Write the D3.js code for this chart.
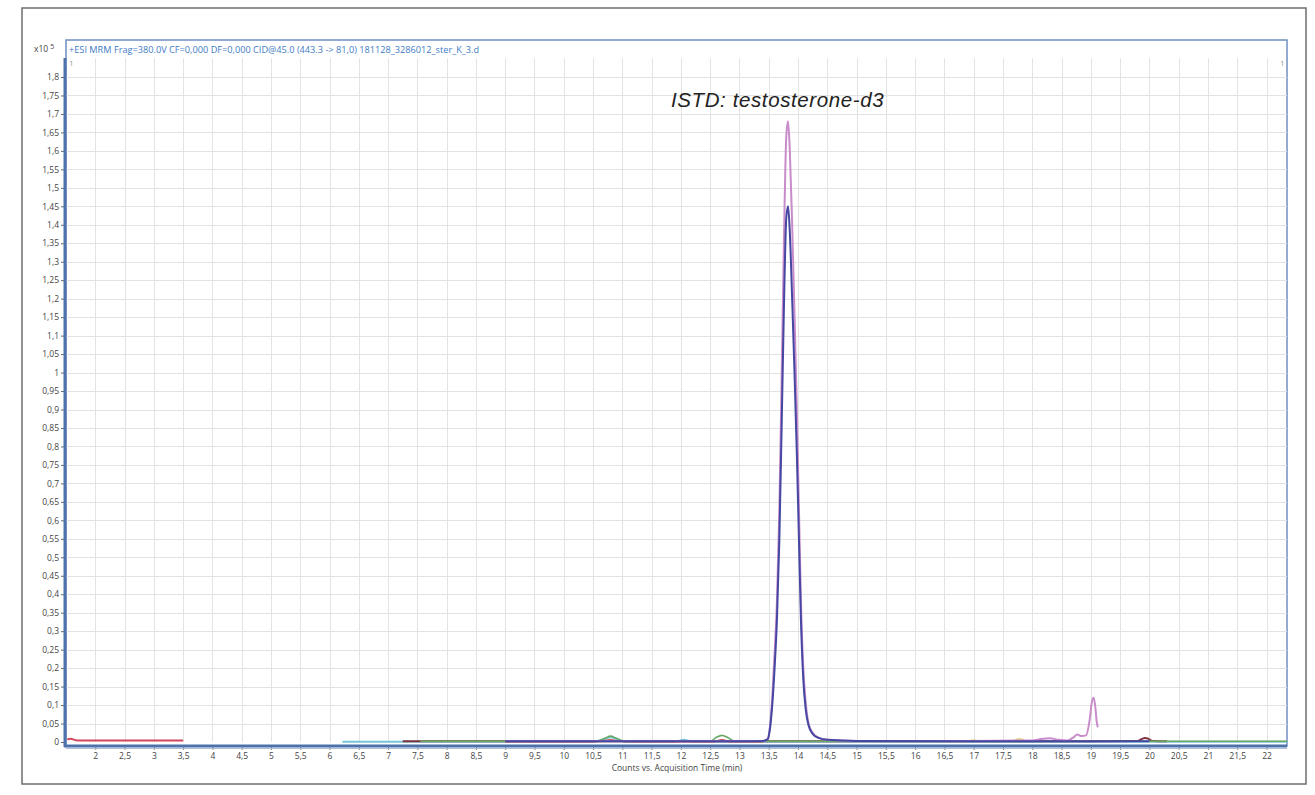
<!DOCTYPE html>
<html>
<head>
<meta charset="utf-8">
<script src="https://cdn.jsdelivr.net/npm/d3@7"></script>
<style>
  html, body { margin: 0; padding: 0; background: #fff; }
  svg { display: block; font-family: "Open Sans", "Liberation Sans", Arial, sans-serif; }
</style>
</head>
<body>
<svg id="chart" width="1315" height="795"></svg>
<script>
// Tick values for both axes (decimal comma labels)
const xTicks = d3.range(2, 22.01, 0.5);
const yTicks = d3.range(0, 1.8001, 0.05);

// Chromatogram traces: [time (min), counts x10^5]
const traceRed = [
  [1.52, 0.007], [1.58, 0.009], [1.66, 0.005], [1.8, 0.004], [2.5, 0.004], [3.0, 0.004], [3.5, 0.004]
];
const traceRed2 = [
  [9.0, 0.001], [10.5, 0.001], [10.7, 0.004], [10.8, 0.006], [10.9, 0.003], [11.2, 0.001],
  [12.55, 0.001], [12.7, 0.006], [12.85, 0.001], [13.4, 0.001]
];
const traceCyan = [
  [6.22, 0.001], [7.0, 0.001], [8.0, 0.001], [10.5, 0.001], [10.7, 0.008], [10.8, 0.013], [10.9, 0.008],
  [11.05, 0.001], [11.9, 0.001], [12.05, 0.006], [12.2, 0.001], [14.0, 0.001], [16.0, 0.001],
  [18.0, 0.001], [20.0, 0.001], [22.35, 0.001]
];
const traceMaroon = [
  [7.25, 0.002], [7.55, 0.002], [9.0, 0.002], [11.0, 0.002], [13.0, 0.002], [15.0, 0.002],
  [17.0, 0.002], [19.0, 0.002], [19.8, 0.003], [19.92, 0.011], [19.98, 0.009], [20.05, 0.003], [20.3, 0.002]
];
const traceGreen = [
  [7.55, 0.002], [8.5, 0.002], [9.05, 0.002], [10.55, 0.002], [10.7, 0.01], [10.8, 0.016], [10.9, 0.01],
  [11.05, 0.002], [12.5, 0.002], [12.6, 0.012], [12.7, 0.018], [12.8, 0.012], [12.92, 0.002],
  [15.0, 0.002], [17.6, 0.002], [20.2, 0.002], [22.35, 0.002]
];
const traceYellow = [
  [16.9, 0.002], [17.0, 0.005], [17.1, 0.002], [17.65, 0.002], [17.78, 0.009], [17.9, 0.002]
];
const tracePink = [
  [9.0, 0.002], [11.0, 0.002], [13.0, 0.002], [13.4, 0.003], [13.48, 0.008], [13.52, 0.04],
  [13.56, 0.12], [13.6, 0.24], [13.64, 0.38], [13.68, 0.62], [13.72, 0.98], [13.76, 1.36],
  [13.8, 1.64], [13.83, 1.68], [13.86, 1.6], [13.9, 1.4], [13.94, 1.16], [13.98, 0.9],
  [14.02, 0.6], [14.05, 0.38], [14.09, 0.2], [14.13, 0.11], [14.18, 0.05], [14.25, 0.025],
  [14.35, 0.012], [14.5, 0.006], [15.0, 0.003], [16.0, 0.003], [17.0, 0.003], [18.0, 0.004],
  [18.15, 0.008], [18.3, 0.01], [18.45, 0.006], [18.6, 0.004], [18.7, 0.012], [18.77, 0.02],
  [18.84, 0.016], [18.92, 0.018], [18.98, 0.06], [19.02, 0.11], [19.05, 0.12], [19.08, 0.09],
  [19.1, 0.055], [19.12, 0.04]
];
const traceNavy = [
  [9.0, 0.002], [11.0, 0.002], [13.0, 0.002], [13.4, 0.003], [13.48, 0.007], [13.52, 0.035],
  [13.56, 0.1], [13.6, 0.2], [13.64, 0.33], [13.68, 0.54], [13.72, 0.85], [13.76, 1.18],
  [13.8, 1.42], [13.83, 1.45], [13.86, 1.38], [13.9, 1.2], [13.94, 1.0], [13.98, 0.78],
  [14.02, 0.52], [14.05, 0.33], [14.09, 0.17], [14.13, 0.09], [14.18, 0.045], [14.25, 0.022],
  [14.35, 0.011], [14.5, 0.006], [15.0, 0.003], [17.0, 0.002], [19.0, 0.002], [20.0, 0.002]
];

const traces = [
  { data: traceRed, color: "#d2475f", width: 2 },
  { data: traceCyan, color: "#78c6d6", width: 2 },
  { data: traceMaroon, color: "#7b3342", width: 2 },
  { data: traceGreen, color: "#6aa866", width: 1.6 },
  { data: traceRed2, color: "#c94a4a", width: 1.6 },
  { data: traceYellow, color: "#e2d27a", width: 1.6 },
  { data: tracePink, color: "#c98ccb", width: 2 },
  { data: traceNavy, color: "#4547a2", width: 2 }
];

const svg = d3.select("#chart");

// Outer frame
svg.append("rect").attr("x", 22).attr("y", 8).attr("width", 1284).attr("height", 776)
  .attr("fill", "none").attr("stroke", "#6e6e6e").attr("stroke-width", 1.5);

const plotLeft = 66, plotRight = 1287, plotTop = 58, boxTop = 40, axisY = 746;

const x = d3.scaleLinear().domain([1.5, 22.35]).range([plotLeft, plotRight]);
const y = d3.scaleLinear().domain([0, 1.8]).range([742, 77]);

const fmt = v => d3.format("~g")(+v.toFixed(2)).replace(".", ",");

// Plot box
svg.append("rect").attr("x", plotLeft).attr("y", boxTop)
  .attr("width", plotRight - plotLeft).attr("height", axisY - boxTop)
  .attr("fill", "#fff").attr("stroke", "#6f8fc0").attr("stroke-width", 1.5);

// Grid
const grid = svg.append("g").attr("stroke", "#e3e3e3").attr("stroke-width", 1);
grid.selectAll("line.v").data(xTicks).join("line")
  .attr("x1", d => Math.round(x(d)) + 0.5).attr("x2", d => Math.round(x(d)) + 0.5)
  .attr("y1", plotTop).attr("y2", 742);
grid.selectAll("line.h").data(yTicks.filter(d => d > 0)).join("line")
  .attr("x1", plotLeft).attr("x2", plotRight)
  .attr("y1", d => Math.round(y(d)) + 0.5).attr("y2", d => Math.round(y(d)) + 0.5);

// Header line inside the box
svg.append("text").attr("x", 69).attr("y", 53)
  .attr("font-size", 9.2).attr("fill", "#3f7cc6")
  .text("+ESI MRM Frag=380.0V CF=0,000 DF=0,000 CID@45.0 (443.3 -> 81,0) 181128_3286012_ster_K_3.d");
svg.append("text").attr("x", 69).attr("y", 66).attr("font-size", 8).attr("fill", "#999").text("1");
svg.append("text").attr("x", 1280).attr("y", 66).attr("font-size", 8).attr("fill", "#999").text("1");

// Traces
const line = d3.line().x(d => x(d[0])).y(d => y(d[1])).curve(d3.curveMonotoneX);
svg.append("g").selectAll("path").data(traces).join("path")
  .attr("d", d => line(d.data))
  .attr("fill", "none")
  .attr("stroke", d => d.color)
  .attr("stroke-width", d => d.width)
  .attr("stroke-linejoin", "round");

// Axes
const yAxis = d3.axisLeft(y).tickValues(yTicks).tickFormat(fmt).tickSize(4).tickPadding(2);
const gy = svg.append("g").attr("transform", `translate(${plotLeft - 1},0)`).call(yAxis);
gy.select(".domain").remove();
gy.selectAll(".tick line").attr("stroke", "#666");
gy.selectAll(".tick text").attr("font-size", 8.5).attr("fill", "#444")
  .style("font-family", "'Open Sans', 'Liberation Sans', sans-serif");

const xAxis = d3.axisBottom(x).tickValues(xTicks).tickFormat(fmt).tickSize(3).tickPadding(3);
const gx = svg.append("g").attr("transform", `translate(0,${axisY + 1})`).call(xAxis);
gx.select(".domain").remove();
gx.selectAll(".tick line").attr("stroke", "#888");
gx.selectAll(".tick text").attr("font-size", 8.5).attr("fill", "#444")
  .style("font-family", "'Open Sans', 'Liberation Sans', sans-serif");

// Thick axis lines
svg.append("line").attr("x1", plotLeft - 1).attr("x2", plotLeft - 1).attr("y1", plotTop).attr("y2", axisY + 1)
  .attr("stroke", "#4e72ab").attr("stroke-width", 3);
svg.append("line").attr("x1", plotLeft - 2).attr("x2", plotRight).attr("y1", axisY).attr("y2", axisY)
  .attr("stroke", "#4e72ab").attr("stroke-width", 3);
svg.append("line").attr("x1", plotLeft).attr("x2", plotRight).attr("y1", axisY + 2.5).attr("y2", axisY + 2.5)
  .attr("stroke", "#aebfd8").attr("stroke-width", 1);

// Y scale multiplier
const mult = svg.append("text").attr("x", 34).attr("y", 52).attr("font-size", 8.5).attr("fill", "#444");
mult.append("tspan").text("x10");
mult.append("tspan").attr("dx", 2).attr("dy", -3).attr("font-size", 7).text("5");

// X axis title
svg.append("text").attr("x", 677).attr("y", 771).attr("text-anchor", "middle")
  .attr("font-size", 8.5).attr("fill", "#444").text("Counts vs. Acquisition Time (min)");

// Compound annotation
svg.append("text").attr("x", 671).attr("y", 107)
  .attr("font-size", 20.5).attr("font-style", "italic").attr("fill", "#222")
  .attr("letter-spacing", 0.6)
  .style("font-family", "'Liberation Sans', Arial, sans-serif")
  .text("ISTD: testosterone-d3");
</script>
</body>
</html>
